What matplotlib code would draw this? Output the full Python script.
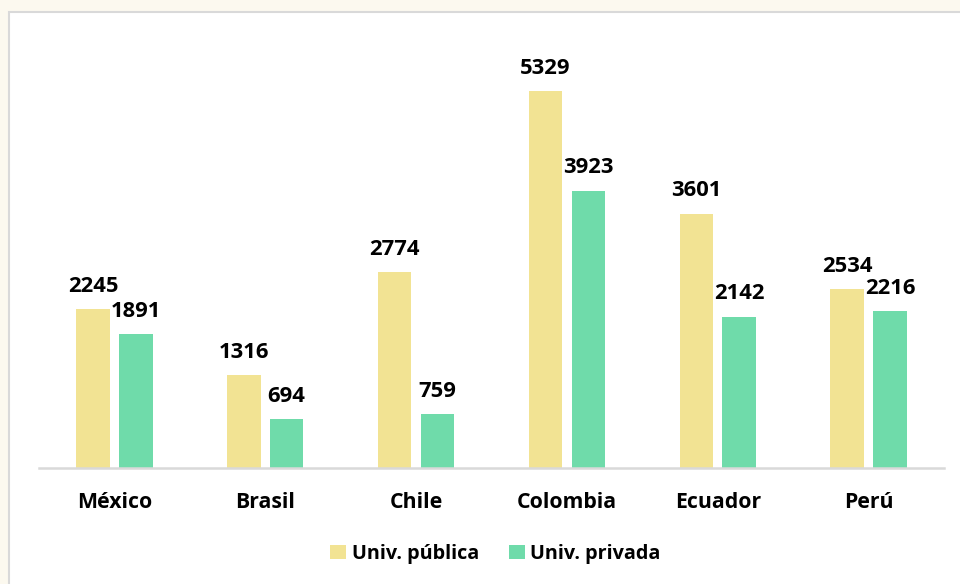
#!/usr/bin/env python3

import numpy as np
import matplotlib.pyplot as plt
from matplotlib.patches import Rectangle

paises = ["México", "Brasil", "Chile", "Colombia", "Ecuador", "Perú"]
publica = [2245, 1316, 2774, 5329, 3601, 2534]
privada = [1891, 694, 759, 3923, 2142, 2216]

C_PUB = "#F2E393"
C_PRIV = "#6FDBAA"
FONT = "Open Sans"
WEIGHT = "bold"

W, H = 960, 584
fig = plt.figure(figsize=(W / 100, H / 100), dpi=100)
fig.patch.set_facecolor("#FCF9EF")

# white card with thin grey border (behind the axes)
fig.patches.append(Rectangle((9 / W, -0.05), 1.0, 1.05 - 12 / H, transform=fig.transFigure,
                             facecolor="white", edgecolor="#D9D9D9", linewidth=1.5,
                             zorder=-1))

ax = fig.add_axes([39 / W, 116 / H, (944 - 39) / W, 424 / H])
ax.set_facecolor("none")

x = np.arange(len(paises))
bw = 0.223
off = 0.142
b1 = ax.bar(x - off, publica, bw, color=C_PUB, label="Univ. pública")
b2 = ax.bar(x + off, privada, bw, color=C_PRIV, label="Univ. privada")

for bars in (b1, b2):
    for b in bars:
        ax.annotate(f"{int(b.get_height())}",
                    (b.get_x() + b.get_width() / 2, b.get_height()),
                    xytext=(0, 12.5), textcoords="offset points",
                    ha="center", va="baseline", fontsize=15.8,
                    fontweight=WEIGHT, family=FONT, color="black")

ax.set_xlim(-0.5, len(paises) - 0.5)
ax.set_ylim(0, 6000)
ax.set_xticks(x)
ax.set_xticklabels(paises, fontsize=15.3, fontweight=WEIGHT, family=FONT)
ax.tick_params(axis="x", length=0, pad=17)
ax.set_yticks([])
for s in ["top", "right", "left"]:
    ax.spines[s].set_visible(False)
ax.spines["bottom"].set_color("#D9D9D9")
ax.spines["bottom"].set_linewidth(1.8)

fig.legend(handles=[b1, b2], loc="center",
           bbox_to_anchor=(495.5 / W, 1 - 554 / H), ncol=2, frameon=False,
           prop={"family": FONT, "weight": WEIGHT, "size": 14.2},
           handlelength=0.8, handleheight=0.75, handletextpad=0.3,
           columnspacing=1.5)

fig.savefig("out.png", dpi=100, facecolor=fig.get_facecolor())
